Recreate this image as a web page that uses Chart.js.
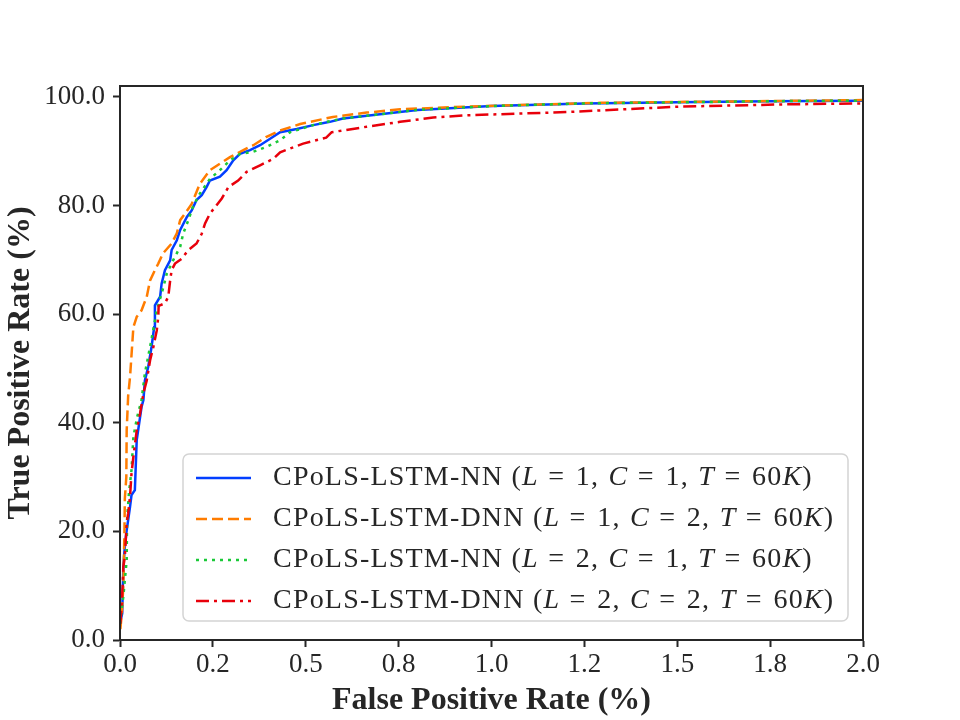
<!DOCTYPE html>
<html>
<head>
<meta charset="utf-8">
<script src="https://cdn.jsdelivr.net/npm/chart.js@4"></script>
<style>
  html, body { margin: 0; padding: 0; background: #fff; }
  #wrap { width: 960px; height: 720px; }
</style>
</head>
<body>
<div id="wrap"><canvas id="roc" width="960" height="720"></canvas></div>
<script>
// axis ticks
const xTicks = [0, 0.25, 0.5, 0.75, 1.0, 1.25, 1.5, 1.75, 2.0];
const xTickLabels = ["0.0", "0.2", "0.5", "0.8", "1.0", "1.2", "1.5", "1.8", "2.0"];
const yTicks = [0, 20, 40, 60, 80, 100];
const yTickLabels = ["0.0", "20.0", "40.0", "60.0", "80.0", "100.0"];

const seriesLabels = [
  "CPoLS-LSTM-NN (L = 1, C = 1, T = 60K)",
  "CPoLS-LSTM-DNN (L = 1, C = 2, T = 60K)",
  "CPoLS-LSTM-NN (L = 2, C = 1, T = 60K)",
  "CPoLS-LSTM-DNN (L = 2, C = 2, T = 60K)"
];

// L=1, C=1
const nn11Fpr = [0.002, 0.006, 0.009, 0.013, 0.018, 0.027, 0.031, 0.040, 0.045, 0.058,
  0.063, 0.067, 0.076, 0.085, 0.092, 0.094, 0.108, 0.112, 0.121, 0.135,
  0.139, 0.153, 0.162, 0.180, 0.193, 0.206, 0.220, 0.233, 0.242, 0.269,
  0.287, 0.305, 0.323, 0.350, 0.377, 0.404, 0.431, 0.476, 0.520, 0.565,
  0.6, 0.8, 1.0, 1.25, 1.5, 1.75, 2.0];
const nn11Tpr = [3.7, 4.9, 13.5, 17.2, 20.2, 24.5, 26.7, 27.6, 36.8, 42.9,
  44.2, 47.8, 50.3, 54, 57.6, 61.6, 63.2, 65.6, 68.1, 69.9,
  71.8, 73.6, 75.5, 77.9, 79.1, 81, 81.9, 83.4, 84.6, 85.3,
  86.5, 88.3, 89.5, 90.2, 91.1, 92.3, 93.5, 94.1, 94.8, 95.4,
  96.0, 97.6, 98.3, 98.8, 99.0, 99.2, 99.3];

// L=1, C=2
const dnn12Fpr = [0.001, 0.005, 0.009, 0.012, 0.013, 0.017, 0.018, 0.022, 0.027, 0.036,
  0.045, 0.058, 0.072, 0.081, 0.094, 0.103, 0.116, 0.139, 0.153, 0.162,
  0.175, 0.193, 0.215, 0.242, 0.269, 0.296, 0.332, 0.359, 0.393, 0.431,
  0.485, 0.573, 0.664, 0.754, 0.888, 1.023, 1.292, 1.561, 2.0];
const dnn12Tpr = [2, 5, 10, 20, 26, 30, 38.6, 45, 48.4, 57.6,
  59.5, 60.7, 63.2, 66.2, 68.1, 69.3, 71.2, 73, 74.9, 77.3,
  78.5, 80.3, 84, 86.5, 87.7, 88.9, 90.2, 91.1, 92.6, 93.8,
  95, 96.3, 97.1, 97.7, 98.1, 98.4, 98.9, 99.1, 99.4];

// L=2, C=1
const nn21Fpr = [0.001, 0.005, 0.009, 0.018, 0.019, 0.024, 0.031, 0.036, 0.046, 0.058,
  0.067, 0.081, 0.099, 0.117, 0.126, 0.143, 0.162, 0.170, 0.184, 0.196,
  0.215, 0.242, 0.269, 0.296, 0.323, 0.359, 0.395, 0.431, 0.458, 0.520,
  0.556, 0.6, 0.8, 1.0, 1.25, 1.5, 1.75, 2.0];
const nn21Tpr = [3, 6, 8, 14.7, 22.1, 27, 31.3, 37.4, 41, 44.2,
  49.1, 54, 60.7, 65, 67.5, 69.9, 72.4, 74.8, 77.3, 79.7,
  82.2, 84.9, 86.5, 88.3, 89.5, 89.9, 90.8, 92, 93.5, 94.8,
  95.4, 96.0, 97.6, 98.3, 98.8, 99.0, 99.2, 99.3];

// L=2, C=2
const dnn22Fpr = [0.001, 0.004, 0.007, 0.009, 0.013, 0.018, 0.022, 0.027, 0.031, 0.036,
  0.045, 0.054, 0.063, 0.072, 0.081, 0.090, 0.099, 0.103, 0.104, 0.121,
  0.130, 0.135, 0.139, 0.148, 0.166, 0.184, 0.206, 0.220, 0.229, 0.242,
  0.256, 0.274, 0.292, 0.318, 0.341, 0.377, 0.413, 0.431, 0.458, 0.493,
  0.555, 0.570, 0.664, 0.754, 0.843, 0.933, 1.068, 1.202, 1.292, 1.507,
  1.777, 2.0];
const dnn22Tpr = [3, 6, 9.8, 13.5, 15.3, 21.5, 23.3, 26.4, 30.7, 33.7,
  38.6, 41.7, 45.4, 47.8, 51.5, 54, 57, 59.5, 61.5, 62,
  63.2, 66.2, 68.1, 69.3, 70.2, 71.8, 73, 74.8, 76.7, 78.5,
  79.7, 81.3, 83.4, 84.6, 86.2, 87.4, 88.6, 89.8, 90.5, 91.4,
  92.5, 93.5, 94.5, 95.4, 96.2, 96.6, 96.9, 97.2, 97.5, 98.2,
  98.6, 98.8];

const toPoints = (xs, ys) => xs.map((x, i) => ({ x: x, y: ys[i] }));

const axisColor = "#262626";
const serif = '"Liberation Serif", "DejaVu Serif", serif';

const styles = [
  { color: "#023eff", dash: [] },
  { color: "#ff7c00", dash: [11, 5] },
  { color: "#1ac938", dash: [3, 5] },
  { color: "#e8000b", dash: [13, 5, 3, 5] }
];

const seriesData = [
  toPoints(nn11Fpr, nn11Tpr),
  toPoints(dnn12Fpr, dnn12Tpr),
  toPoints(nn21Fpr, nn21Tpr),
  toPoints(dnn22Fpr, dnn22Tpr)
];

const datasets = seriesData.map((pts, i) => ({
  label: seriesLabels[i],
  data: pts,
  borderColor: styles[i].color,
  borderDash: styles[i].dash,
  borderWidth: 2.5,
  pointRadius: 0,
  tension: 0,
  fill: false,
  order: 4 - i
}));

// box around plot + legend inside lower right
const framePlugin = {
  id: "frame",
  afterDraw(chart) {
    const { ctx, chartArea: ca } = chart;
    ctx.save();
    ctx.strokeStyle = axisColor;
    ctx.lineWidth = 2;
    ctx.strokeRect(ca.left, ca.top, ca.right - ca.left, ca.bottom - ca.top);

    // legend
    const bx = ca.left + 63, by = ca.bottom - 186;
    const bw = ca.right - 15 - bx, bh = 167;
    ctx.fillStyle = "rgba(255,255,255,0.85)";
    ctx.strokeStyle = "#d4d4d4";
    ctx.lineWidth = 1.5;
    ctx.beginPath();
    ctx.roundRect(bx, by, bw, bh, 6);
    ctx.fill();
    ctx.stroke();

    const size = 28;
    seriesLabels.forEach((label, i) => {
      const cy = by + 24 + i * 41;
      ctx.strokeStyle = styles[i].color;
      ctx.setLineDash(styles[i].dash);
      ctx.lineWidth = 2.5;
      ctx.beginPath();
      ctx.moveTo(bx + 13, cy);
      ctx.lineTo(bx + 68, cy);
      ctx.stroke();
      ctx.setLineDash([]);

      ctx.fillStyle = axisColor;
      ctx.textBaseline = "middle";
      ctx.textAlign = "left";
      ctx.letterSpacing = "1.2px";
      let x = bx + 90;
      const open = label.indexOf("(");
      const head = label.slice(0, open + 1);
      ctx.font = size + "px " + serif;
      ctx.fillText(head, x, cy);
      x += ctx.measureText(head).width;
      for (const ch of label.slice(open + 1)) {
        ctx.font = (/[A-Za-z]/.test(ch) ? "italic " : "") + size + "px " + serif;
        ctx.fillText(ch, x, cy);
        x += ctx.measureText(ch).width + (ch === "=" || ch === " " ? 1.2 : 0);
      }
    });
    ctx.restore();
  }
};

new Chart(document.getElementById("roc"), {
  type: "line",
  data: { datasets: datasets },
  options: {
    responsive: false,
    animation: false,
    layout: { padding: { left: 0, top: 86, right: 97, bottom: 0 } },
    plugins: {
      legend: { display: false },
      tooltip: { enabled: false }
    },
    scales: {
      x: {
        type: "linear",
        min: 0,
        max: 2,
        afterBuildTicks: (scale) => { scale.ticks = xTicks.map(v => ({ value: v })); },
        afterFit: (scale) => { scale.height = 80; },
        ticks: {
          autoSkip: false,
          maxRotation: 0,
          padding: 2,
          color: axisColor,
          font: { family: serif, size: 27 },
          callback: (v, i) => xTickLabels[i]
        },
        grid: { drawOnChartArea: false, drawTicks: true, tickLength: 7, tickWidth: 2, tickColor: axisColor },
        border: { display: true, color: axisColor, width: 2 },
        title: {
          display: true,
          text: "False Positive Rate (%)",
          color: axisColor,
          font: { family: serif, size: 32, weight: "bold" },
          padding: 0
        }
      },
      y: {
        type: "linear",
        min: 0,
        max: 102,
        afterBuildTicks: (scale) => { scale.ticks = yTicks.map(v => ({ value: v })); },
        afterFit: (scale) => { scale.width = 120; },
        ticks: {
          autoSkip: false,
          padding: 8,
          color: axisColor,
          font: { family: serif, size: 27 },
          callback: (v, i) => yTickLabels[i]
        },
        grid: { drawOnChartArea: false, drawTicks: true, tickLength: 7, tickWidth: 2, tickColor: axisColor },
        border: { display: true, color: axisColor, width: 2 },
        title: {
          display: true,
          text: "True Positive Rate (%)",
          color: axisColor,
          font: { family: serif, size: 32, weight: "bold" },
          padding: { top: 2, bottom: 0 }
        }
      }
    }
  },
  plugins: [framePlugin]
});
</script>
</body>
</html>
